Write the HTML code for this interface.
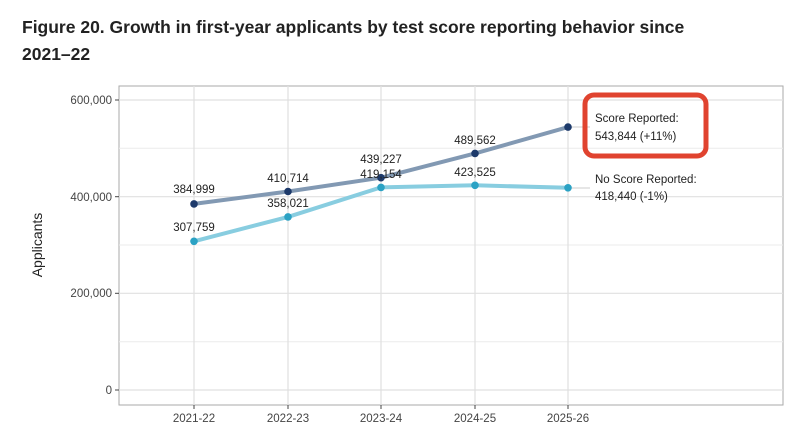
<!DOCTYPE html>
<html><head><style>
body{margin:0;background:#fff;width:800px;height:437px;overflow:hidden;font-family:"Liberation Sans",sans-serif}
.t{position:absolute;left:22px;top:14px;font-size:17.5px;font-weight:bold;color:#222;line-height:27px;letter-spacing:0px}
</style></head><body>
<div class="t">Figure 20. Growth in first-year applicants by test score reporting behavior since<br>2021–22</div>
<svg width="800" height="437" style="position:absolute;left:0;top:0" font-family="Liberation Sans, sans-serif">
<rect x="119" y="86" width="664" height="319" fill="#fff" stroke="#aaa" stroke-width="1"/>
<g stroke="#ebebeb" stroke-width="1">
<line x1="119" x2="783" y1="148.3" y2="148.3"/><line x1="119" x2="783" y1="245" y2="245"/><line x1="119" x2="783" y1="341.7" y2="341.7"/>
</g>
<g stroke="#e0e0e0" stroke-width="1.2">
<line x1="119" x2="783" y1="100" y2="100"/><line x1="119" x2="783" y1="196.7" y2="196.7"/><line x1="119" x2="783" y1="293.3" y2="293.3"/><line x1="119" x2="783" y1="390" y2="390"/>
<line y1="86" y2="405" x1="194" x2="194"/><line y1="86" y2="405" x1="288" x2="288"/><line y1="86" y2="405" x1="381" x2="381"/><line y1="86" y2="405" x1="475" x2="475"/><line y1="86" y2="405" x1="568" x2="568"/>
</g>
<g font-size="11.5" fill="#444" text-anchor="end">
<text x="112" y="104">600,000</text><text x="112" y="201">400,000</text><text x="112" y="297">200,000</text><text x="112" y="394">0</text>
</g>
<g stroke="#444"><line x1="115" x2="119" y1="100" y2="100"/><line x1="115" x2="119" y1="196.7" y2="196.7"/><line x1="115" x2="119" y1="293.3" y2="293.3"/><line x1="115" x2="119" y1="390" y2="390"/>
<line y1="405" y2="409" x1="194" x2="194"/><line y1="405" y2="409" x1="288" x2="288"/><line y1="405" y2="409" x1="381" x2="381"/><line y1="405" y2="409" x1="475" x2="475"/><line y1="405" y2="409" x1="568" x2="568"/></g>
<g font-size="11.5" fill="#444" text-anchor="middle">
<text x="194" y="422">2021-22</text><text x="288" y="422">2022-23</text><text x="381" y="422">2023-24</text><text x="475" y="422">2024-25</text><text x="568" y="422">2025-26</text>
</g>
<text transform="translate(42,245) rotate(-90)" font-size="14" fill="#222" text-anchor="middle">Applicants</text>
<line x1="568" x2="590" y1="127" y2="127" stroke="#ccc"/>
<line x1="568" x2="590" y1="188" y2="188" stroke="#ccc"/>
<polyline points="194,241.3 288,216.9 381,187.4 475,185.3 568,187.8" fill="none" stroke="#88cde0" stroke-width="4"/>
<polyline points="194,203.9 288,191.5 381,177.7 475,153.4 568,127.1" fill="none" stroke="#8299b3" stroke-width="4"/>
<g fill="#2ba2c4"><circle cx="194" cy="241.3" r="3.8"/><circle cx="288" cy="216.9" r="3.8"/><circle cx="381" cy="187.4" r="3.8"/><circle cx="475" cy="185.3" r="3.8"/><circle cx="568" cy="187.8" r="3.8"/></g>
<g fill="#1d3a6b"><circle cx="194" cy="203.9" r="3.8"/><circle cx="288" cy="191.5" r="3.8"/><circle cx="381" cy="177.7" r="3.8"/><circle cx="475" cy="153.4" r="3.8"/><circle cx="568" cy="127.1" r="3.8"/></g>
<g font-size="11.5" fill="#222" text-anchor="middle">
<text x="194" y="193">384,999</text><text x="288" y="182">410,714</text><text x="381" y="163">439,227</text><text x="475" y="144">489,562</text>
<text x="194" y="231">307,759</text><text x="288" y="207">358,021</text><text x="381" y="178">419,154</text><text x="475" y="176">423,525</text>
</g>
<g font-size="11.5" fill="#222">
<text x="595" y="122">Score Reported:</text><text x="595" y="140">543,844 (+11%)</text>
<text x="595" y="183">No Score Reported:</text><text x="595" y="200">418,440 (-1%)</text>
</g>
<rect x="585" y="95" width="121" height="61" rx="9" fill="none" stroke="#e0432f" stroke-width="5"/>
</svg>
</body></html>
